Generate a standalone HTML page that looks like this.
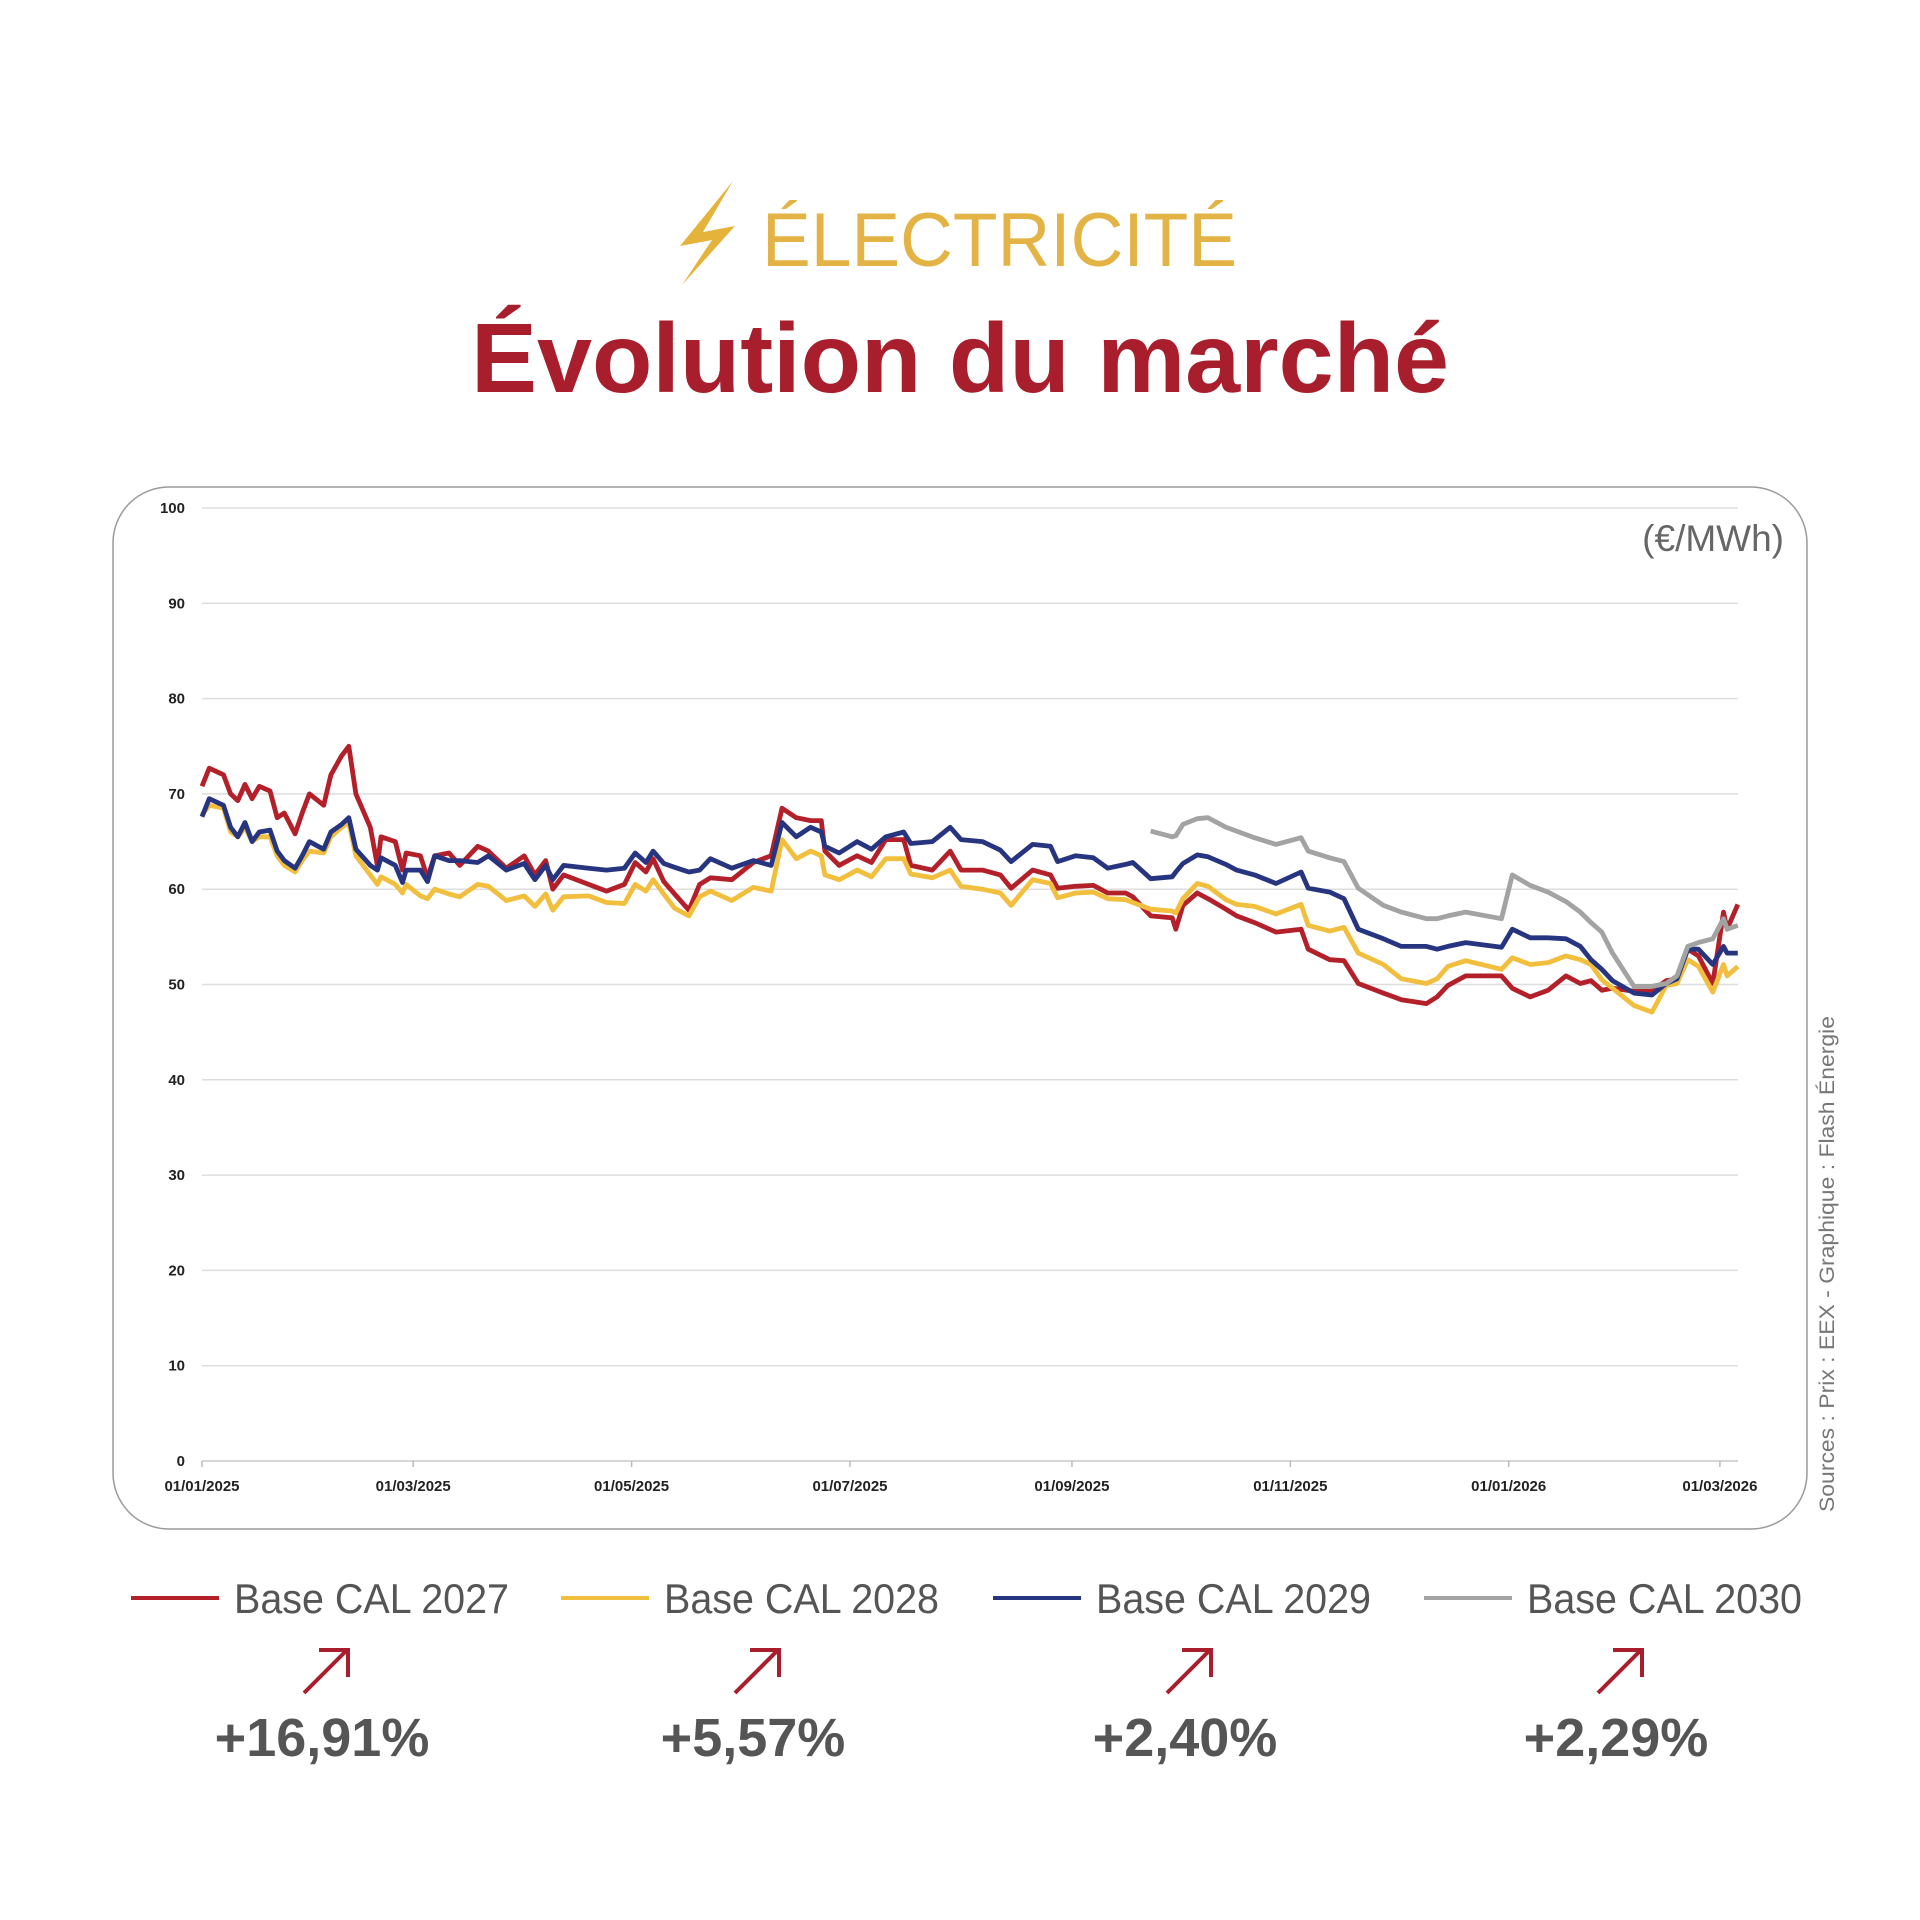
<!DOCTYPE html>
<html><head><meta charset="utf-8"><style>
html,body{margin:0;padding:0;background:#fff;}
svg{display:block;font-family:"Liberation Sans",sans-serif;}
</style></head><body>
<svg id="chart" width="1920" height="1920" viewBox="0 0 1920 1920">
  <polygon points="733,181 680,246 712,240 682,285 735,226 703,232" fill="#e6b33a"/>
  <text x="762" y="266" font-size="76" fill="#e3b445" textLength="475" lengthAdjust="spacingAndGlyphs">ÉLECTRICITÉ</text>
  <text x="471" y="392" font-size="98" font-weight="bold" fill="#a91e2c" textLength="978" lengthAdjust="spacingAndGlyphs">Évolution du marché</text>
  <rect x="113" y="487" width="1694" height="1042" rx="56" ry="56" fill="none" stroke="#9a9a9a" stroke-width="1.5"/>
  <text x="1784" y="551" font-size="37" fill="#666" text-anchor="end">(€/MWh)</text>
  <text transform="translate(1834,1512) rotate(-90)" font-size="21" fill="#777" textLength="496" lengthAdjust="spacingAndGlyphs">Sources : Prix : EEX - Graphique : Flash Énergie</text>
  <g id="grid"></g><g id="axes"></g><g id="series"></g><g id="legend"></g>
</svg>
<script>
const yTicks=[0,10,20,30,40,50,60,70,80,90,100];
const xTickLabels=["01/01/2025","01/03/2025","01/05/2025","01/07/2025","01/09/2025","01/11/2025","01/01/2026","01/03/2026"];
const xTickDays=[0,59,120,181,243,304,365,424];
const days=[0,2,6,8,10,12,14,16,19,21,23,26,28,30,34,36,39,41,43,47,49,50,54,56,57,61,63,65,69,72,77,80,85,90,93,96,98,101,108,113,118,121,124,126,129,132,136,139,142,148,154,159,162,166,170,173,174,178,183,187,191,196,198,204,209,212,218,223,226,232,237,239,244,249,253,258,260,265,271,272,274,278,281,286,289,294,300,307,309,315,319,323,330,335,342,345,348,353,363,366,371,376,381,385,388,391,394,400,405,409,412,415,418,422,425,426,429];
const cal2027=[70.8,72.7,72,70,69.3,71,69.5,70.8,70.3,67.5,68,65.8,68,70,68.8,72,74,75,70,66.5,62.5,65.5,65,62,63.8,63.5,61.2,63.5,63.8,62.5,64.5,64,62.2,63.5,61.5,63,60,61.5,60.5,59.8,60.5,62.8,61.8,63.2,60.8,59.5,57.8,60.5,61.2,61,62.8,63.5,68.5,67.5,67.2,67.2,64,62.5,63.5,62.8,65.2,65.2,62.5,62,64,62,62,61.5,60.1,62,61.5,60.1,60.3,60.4,59.6,59.6,59.2,57.2,57,55.8,58.3,59.6,59,57.9,57.2,56.5,55.5,55.8,53.7,52.6,52.5,50.1,49.1,48.4,48,48.7,49.9,50.9,50.9,49.6,48.7,49.4,50.9,50.1,50.4,49.4,49.6,49.3,49.3,50.4,50.6,53.7,53,50.1,57.6,55.8,58.4];
const cal2028=[67.8,68.8,68.5,66,65.5,66.5,65,65.5,65.5,63.5,62.5,61.8,63,64,63.8,65.5,66.5,67,63.5,61.5,60.5,61.3,60.5,59.6,60.5,59.3,59,60,59.5,59.2,60.5,60.3,58.8,59.3,58.2,59.5,57.8,59.2,59.3,58.6,58.5,60.5,59.8,61,59.5,58,57.2,59.2,59.8,58.8,60.2,59.8,65.2,63.2,64,63.5,61.5,61,62,61.3,63.2,63.2,61.6,61.2,62,60.3,60,59.6,58.3,61,60.6,59.1,59.6,59.7,59,58.9,58.6,57.9,57.7,57.5,59,60.6,60.3,58.9,58.4,58.2,57.4,58.4,56.2,55.6,56,53.3,52.1,50.6,50.1,50.6,51.9,52.5,51.6,52.8,52.1,52.3,53,52.6,52.1,50.5,49.6,47.8,47.1,49.9,50.1,52.6,51.9,49.2,52.1,50.9,51.9];
const cal2029=[67.6,69.5,68.8,66.5,65.5,67,65,66,66.2,64,63,62.2,63.5,65,64.2,66,66.8,67.5,64.2,62.5,62,63.3,62.5,60.7,62,62,60.8,63.5,63,63,62.8,63.5,62,62.7,61,62.5,61,62.5,62.2,62,62.2,63.8,62.8,64,62.7,62.3,61.8,62,63.2,62.2,63,62.5,67,65.5,66.5,66,64.5,63.8,65,64.2,65.5,66,64.8,65,66.5,65.2,65,64.1,62.9,64.7,64.5,62.9,63.5,63.3,62.2,62.6,62.8,61.1,61.3,61.8,62.7,63.6,63.4,62.6,62,61.5,60.6,61.8,60.1,59.7,59,55.8,54.8,54,54,53.7,54,54.4,53.9,55.8,54.9,54.9,54.8,54,52.6,51.6,50.4,49.1,48.9,50.1,50.6,53.7,53.7,52.1,54,53.3,53.3];
const cal2030=[null,null,null,null,null,null,null,null,null,null,null,null,null,null,null,null,null,null,null,null,null,null,null,null,null,null,null,null,null,null,null,null,null,null,null,null,null,null,null,null,null,null,null,null,null,null,null,null,null,null,null,null,null,null,null,null,null,null,null,null,null,null,null,null,null,null,null,null,null,null,null,null,null,null,null,null,null,66.1,65.5,65.6,66.8,67.4,67.5,66.5,66.1,65.4,64.7,65.4,64,63.3,62.9,60.1,58.3,57.6,56.9,56.9,57.2,57.6,56.9,61.5,60.4,59.7,58.7,57.6,56.5,55.5,53.3,49.8,49.8,50.1,50.9,54,54.4,54.8,56.9,55.8,56.2];
const seriesNames=["Base CAL 2027","Base CAL 2028","Base CAL 2029","Base CAL 2030"];
const seriesColors=["#b3202a","#f2be3e","#273580","#a3a3a3"];
const changes=["+16,91%","+5,57%","+2,40%","+2,29%"];

const NS="http://www.w3.org/2000/svg";
function mk(tag,attrs,parent){const e=document.createElementNS(NS,tag);for(const k in attrs)e.setAttribute(k,attrs[k]);parent.appendChild(e);return e;}
const X0=202,PX_PER_DAY=3.58,Y0=1461,PX_PER_UNIT=9.53;
function xScale(d){return X0+d*PX_PER_DAY;}
function yScale(v){return Y0-v*PX_PER_UNIT;}
const grid=document.getElementById('grid'),axes=document.getElementById('axes'),series=document.getElementById('series'),legend=document.getElementById('legend');

yTicks.forEach(v=>{
  const l=mk('line',{x1:202,x2:1738,y1:yScale(v),y2:yScale(v),stroke:v===0?'#c8c8c8':'#dedede','stroke-width':1.5},grid);
  
  
  const t=mk('text',{x:185,y:yScale(v)+5,'font-size':15,'font-weight':'bold','text-anchor':'end',fill:'#222'},axes);
  t.textContent=v;
  
  
});
xTickDays.forEach((d,i)=>{
  const tk=mk('line',{x1:xScale(d),x2:xScale(d),y1:1461,y2:1467,stroke:'#bbb','stroke-width':1.5},axes);
  
  
  const t=mk('text',{x:xScale(d),y:1491,'font-size':15,'font-weight':'bold','text-anchor':'middle',fill:'#222'},axes);
  t.textContent=xTickLabels[i];
  
  
});
[cal2027,cal2028,cal2029,cal2030].forEach((arr,si)=>{
  let d='',pen=false;
  arr.forEach((v,i)=>{ if(v==null){pen=false;return;} d+=(pen?'L':'M')+xScale(days[i]).toFixed(1)+','+yScale(v).toFixed(1); pen=true; });
  const p=mk('path',{d:d,fill:'none',stroke:seriesColors[si],'stroke-width':4.8,'stroke-linejoin':'round'},series);
  
  
});
const legLineX=[131,561,993,1424];
const pctX=[322,753,1185,1616];
seriesNames.forEach((n,i)=>{
  const g=mk('g',{},legend);
  
  
  mk('line',{x1:legLineX[i],x2:legLineX[i]+88,y1:1598,y2:1598,stroke:seriesColors[i],'stroke-width':4},g);
  const t=mk('text',{x:legLineX[i]+103,y:1613,'font-size':42,fill:'#555',textLength:275,lengthAdjust:'spacingAndGlyphs'},g);
  t.textContent=n;
  const cx=pctX[i]+3;
  const a=mk('g',{stroke:'#a91e2c','stroke-width':4,fill:'none','stroke-linecap':'butt'},legend);
  
  
  mk('path',{d:'M'+(cx-21)+',1693 L'+(cx+22)+',1650'},a);
  mk('path',{d:'M'+(cx-6)+',1650 L'+(cx+23)+',1650 L'+(cx+23)+',1677'},a);
  const p=mk('text',{x:pctX[i],y:1756,'font-size':54,'font-weight':'bold',fill:'#555','text-anchor':'middle'},legend);
  p.textContent=changes[i];
  
  
});
</script>
</body></html>
